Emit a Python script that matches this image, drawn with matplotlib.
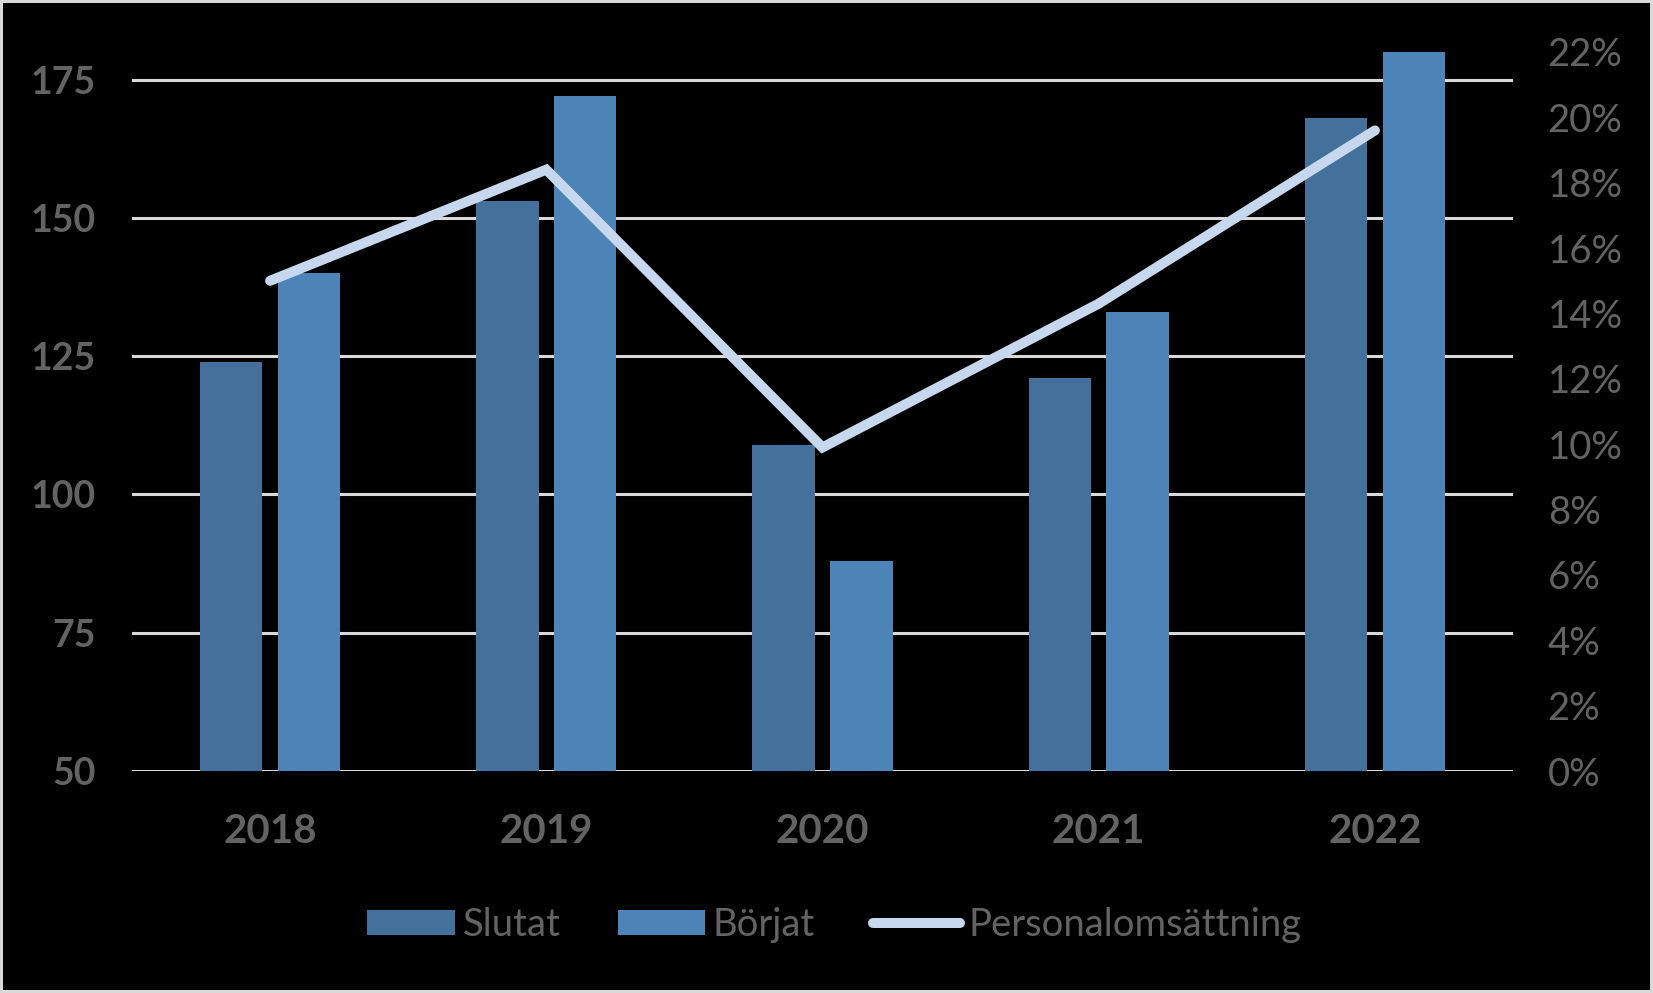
import matplotlib
matplotlib.use("Agg")
import matplotlib.pyplot as plt
from matplotlib.patches import Rectangle
from matplotlib.ticker import FuncFormatter, FixedLocator
import numpy as np

years = ["2018", "2019", "2020", "2021", "2022"]
slutat = [124, 153, 109, 121, 168]
borjat = [140, 172, 88, 133, 180]
omsattning = [15.0, 18.4, 9.9, 14.3, 19.6]
left_ticks = [50, 75, 100, 125, 150, 175]
right_ticks = [0, 2, 4, 6, 8, 10, 12, 14, 16, 18, 20, 22]

W, H = 1653, 993
fig = plt.figure(figsize=(W / 100, H / 100), dpi=100)
fig.patch.set_facecolor("#D9D9D9")
fig.patches.append(Rectangle((3 / W, 3 / H), (W - 6) / W, (H - 6) / H,
                             transform=fig.transFigure, facecolor="black",
                             edgecolor="none", zorder=-10))

font = "Lato"
txt = "#636363"
c_slut = "#43719C"
c_borj = "#4C84B8"
c_line = "#C7D8EE"

ax = fig.add_axes([132 / W, 1 - 771 / H, (1513 - 132) / W, (771 - 52) / H])
ax.set_facecolor("none")
x = np.arange(len(years))
bw = 0.226
off = 0.141
b1 = ax.bar(x - off, slutat, bw, color=c_slut, zorder=3, label="Slutat")
b2 = ax.bar(x + off, borjat, bw, color=c_borj, zorder=3, label="Börjat")
ax.set_ylim(50, 180)
ax.set_xlim(-0.5, 4.5)
ax.yaxis.set_major_locator(FixedLocator(left_ticks))
ax.grid(axis="y", color="#D9D9D9", linewidth=2.2, zorder=0)
ax.set_axisbelow(True)
for s in ax.spines.values():
    s.set_visible(False)
ax.tick_params(axis="both", length=0)
ax.set_xticks(x)
ax.set_xticklabels(years, fontsize=29, fontweight="bold", color=txt, family=font)
ax.tick_params(axis="x", pad=30)
ax.tick_params(axis="y", pad=26)
for lab in ax.get_yticklabels():
    lab.set_fontsize(27)
    lab.set_fontweight("bold")
    lab.set_color(txt)
    lab.set_family(font)

ax2 = ax.twinx()
ax2.set_ylim(0, 22)
ax2.yaxis.set_major_locator(FixedLocator(right_ticks))
ax2.yaxis.set_major_formatter(FuncFormatter(lambda v, p: f"{v:.0f}%"))
ln, = ax2.plot(x, omsattning, color=c_line, linewidth=7.2, solid_capstyle="round",
               solid_joinstyle="miter", zorder=5, label="Personalomsättning")
for s in ax2.spines.values():
    s.set_visible(False)
ax2.tick_params(axis="y", length=0, pad=25)
for lab in ax2.get_yticklabels():
    lab.set_fontsize(27.5)
    lab.set_color(txt)
    lab.set_family(font)

leg = fig.legend([b1, b2, ln], ["Slutat", "Börjat", "Personalomsättning"],
                 loc="center", bbox_to_anchor=(834 / W, 1 - 925 / H), ncol=3,
                 frameon=False, prop={"family": font, "size": 27.5},
                 handlelength=2.3, handleheight=0.65, handletextpad=0.2,
                 columnspacing=1.5)
for t in leg.get_texts():
    t.set_color(txt)

fig.savefig("out.png", dpi=100, facecolor=fig.get_facecolor())
